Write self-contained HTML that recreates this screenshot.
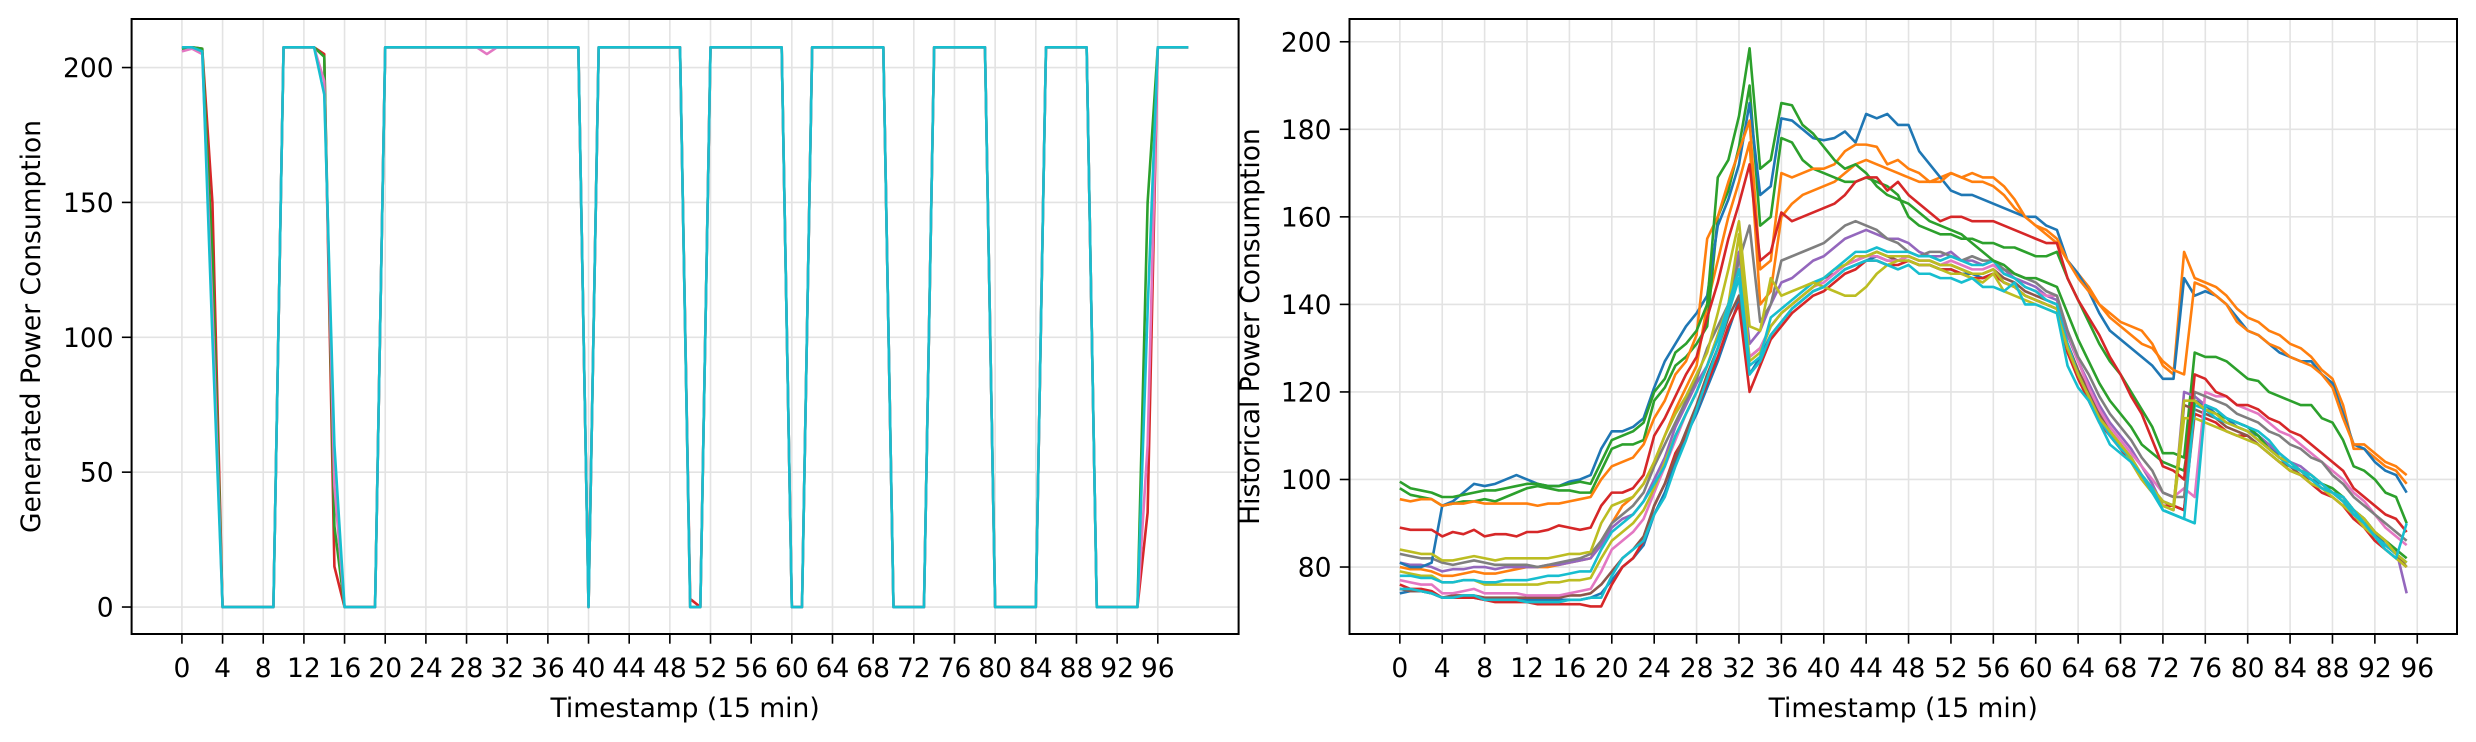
<!DOCTYPE html>
<html><head><meta charset="utf-8"><style>
html,body{margin:0;padding:0;background:#fff;}
svg{display:block;font-family:"DejaVu Sans","Liberation Sans",sans-serif;}
</style></head><body>
<svg id="fig" width="2476" height="742" viewBox="0 0 2476 742" xmlns="http://www.w3.org/2000/svg">
<rect width="2476" height="742" fill="#fff"/>
<g id="left"></g>
<g id="right"></g>
</svg>
<script>
// ---------- LEFT CHART DATA ----------
const leftXTicks = [0,4,8,12,16,20,24,28,32,36,40,44,48,52,56,60,64,68,72,76,80,84,88,92,96];
const leftYTicks = [0,50,100,150,200];
const leftMain = [207.5,207.5,206,100,0,0,0,0,0,0,
 207.5,207.5,207.5,207.5,190,60,0,0,0,0,
 207.5,207.5,207.5,207.5,207.5,207.5,207.5,207.5,207.5,207.5,
 207.5,207.5,207.5,207.5,207.5,207.5,207.5,207.5,207.5,207.5,
 0,207.5,207.5,207.5,207.5,207.5,207.5,207.5,207.5,207.5,
 0,0,207.5,207.5,207.5,207.5,207.5,207.5,207.5,207.5,
 0,0,207.5,207.5,207.5,207.5,207.5,207.5,207.5,207.5,
 0,0,0,0,207.5,207.5,207.5,207.5,207.5,207.5,
 0,0,0,0,0,207.5,207.5,207.5,207.5,207.5,
 0,0,0,0,0,110,207.5,207.5,207.5,207.5];
const leftRed = [207.5,207.5,207,150,0,0,0,0,0,0,
 207.5,207.5,207.5,207.5,205,15,0,0,0,0,
 207.5,207.5,207.5,207.5,207.5,207.5,207.5,207.5,207.5,207.5,
 207.5,207.5,207.5,207.5,207.5,207.5,207.5,207.5,207.5,207.5,
 0,207.5,207.5,207.5,207.5,207.5,207.5,207.5,207.5,207.5,
 3,0,207.5,207.5,207.5,207.5,207.5,207.5,207.5,207.5,
 0,0,207.5,207.5,207.5,207.5,207.5,207.5,207.5,207.5,
 0,0,0,0,207.5,207.5,207.5,207.5,207.5,207.5,
 0,0,0,0,0,207.5,207.5,207.5,207.5,207.5,
 0,0,0,0,0,35,207.5,207.5,207.5,207.5];
const leftGreen = [207,207.5,207,130,0,0,0,0,0,0,
 207.5,207.5,207.5,207.5,204,30,0,0,0,0,
 207.5,207.5,207.5,207.5,207.5,207.5,207.5,207.5,207.5,207.5,
 207.5,207.5,207.5,207.5,207.5,207.5,207.5,207.5,207.5,207.5,
 0,207.5,207.5,207.5,207.5,207.5,207.5,207.5,207.5,207.5,
 0,0,207.5,207.5,207.5,207.5,207.5,207.5,207.5,207.5,
 0,0,207.5,207.5,207.5,207.5,207.5,207.5,207.5,207.5,
 0,0,0,0,207.5,207.5,207.5,207.5,207.5,207.5,
 0,0,0,0,0,207.5,207.5,207.5,207.5,207.5,
 0,0,0,0,0,150,207.5,207.5,207.5,207.5];
const leftPink = [206,207,205,110,0,0,0,0,0,0,
 207.5,207.5,207.5,207.5,195,45,0,0,0,0,
 207.5,207.5,207.5,207.5,207.5,207.5,207.5,207.5,207.5,207.5,
 205,207.5,207.5,207.5,207.5,207.5,207.5,207.5,207.5,207.5,
 0,207.5,207.5,207.5,207.5,207.5,207.5,207.5,207.5,207.5,
 0,0,207.5,207.5,207.5,207.5,207.5,207.5,207.5,207.5,
 0,0,207.5,207.5,207.5,207.5,207.5,207.5,207.5,207.5,
 0,0,0,0,207.5,207.5,207.5,207.5,207.5,207.5,
 0,0,0,0,0,207.5,207.5,207.5,207.5,207.5,
 0,0,0,0,0,60,207.5,207.5,207.5,207.5];

// ---------- RIGHT CHART DATA ----------
const rightXTicks = [0,4,8,12,16,20,24,28,32,36,40,44,48,52,56,60,64,68,72,76,80,84,88,92,96];
const rightYTicks = [80,100,120,140,160,180,200];
const hBlue1=[81,80,80,81,94,95,97,99,98.5,99,100,101,100,99,98.5,98.5,99.5,100,101,107,111,111,112,114,121,127,131,135,138,142,158,164,172,186,165,167,182.5,182,180,178,177.5,178,179.5,177,183.5,182.5,183.5,181,181,175,172,169,166,165,165,164,163,162,161,160,160,158,157,150,147,143,138,134,132,130,128,126,123,123,146,142,143,142,140,137,134,133,131,129,128,127,127,124,122,115,108,107,104,102,101,97];
const hOrange1=[95.5,95,95.5,95.5,94,94.5,94.5,95,94.5,94.5,94.5,94.5,94.5,94,94.5,94.5,95,95.5,96,100,103,104,105,108,114,118,124,127,133,155,160,168,175,182,148,150,170,169,170,171,171,172,175,176.5,176.5,176,172,173,171,170,168,168,170,169,170,169,169,167,164,160,158,157,155,150,146,143,140,137,135,133,131,130,127,125,124,145,144,142,140,136,134,133,131,130,128,127,126,124,121,114,108,108,106,104,103,101];
const hOrange2=[80,79.5,79.5,79,78,78,78.5,79,78.5,78.5,79,79.5,80,80,80,80.5,81,81.5,82,86,90,94,96,99,104,110,116,121,126,140,150,160,168,177,140,143,160,163,165,166,167,168,170,172,173,172,171,170,169,168,168,169,170,169,168,168,167,165,162,160,158,156,154,150,147,144,140,138,136,135,134,131,126,124,152,146,145,144,142,139,137,136,134,133,131,130,128,125,123,117,107,107,105,103,102,99];
const hGreen1=[99.5,98,97.5,97,96,96,96.5,97,97.5,97.5,98,98.5,99,99,98.5,98.5,99,99.5,99,104,109,110,111,113,120,123,129,131,134,140,169,173,183,198.5,171,173,186,185.5,181,179,176,173,171,172,170,167,165,164,163,161,159,158,157,156,154,152,150,149,147,146,146,145,144,138,132,127,122,118,115,112,108,106,104,103,102,118,116,115,114,113,112,110,107,105,104,102,101,99,98,96,93,91,88,86,84,82];
const hGreen2=[98,96.5,96,95.5,94,94.5,95,95,95.5,95,96,97,98,98.5,98,97.5,97.5,97,97,102,107,108,108,109,118,121,126,128,131,135,160,166,176,190,158,160,178,177,173,171,170,169,168,168,169,168,167,165,160,158,157,156,156,155,155,154,154,153,153,152,151,151,152,146,141,136,131,127,124,120,116,112,106,106,105,129,128,128,127,125,123,122.5,120,119,118,117,117,114,113,109,103,102,100,97,96,90];
const hRed1=[89,88.5,88.5,88.5,87,88,87.5,88.5,87,87.5,87.5,87,88,88,88.5,89.5,89,88.5,89,94,97,97,98,101,110,114,119,124,128,137,145,155,163,172,150,152,161,159,160,161,162,163,165,168,169,169,166,168,165,163,161,159,160,160,159,159,159,158,157,156,155,154,154,146,141,137,133,128,124,119,115,109,103,102,100,124,123,120,119,117,117,116,114,113,111,110,108,106,104,102,98,96,94,92,91,88];
const hGray1=[83,82.5,82,82,81,80.5,81,81.5,81,80.5,80.5,80.5,80.5,80,80.5,81,81.5,82,83,86,90,92,94,97,103,108,113,118,123,130,135,140,150,158,136,140,150,151,152,153,154,156,158,159,158,157,155,154,152,151,152,152,151,150,151,150,150,148,147,146,145,143,142,134,128,124,119,115,112,109,105,102,97,96,96,120,119,118,117,115,114,113,111,110,108,107,105,104,101,99,96,94,92,90,88,86];
const hOlive1=[84,83.5,83,83,81.5,81.5,82,82.5,82,81.5,82,82,82,82,82,82.5,83,83,83.5,90,94,95,96,99,104,110,115,119,124,129,138,148,159,135,134,146,142,143,144,145,144,143,142,142,144,147,149,150,150,149,149,148,147,147,146,145,147,143,142,141,140,139,138,130,124,119,114,111,108,105,101,98,95,94,118,118,116,115,113,112,111,109,107,105,104,102,101,99,97,96,93,91,88,86,83,81];
const hPurple1=[81,80.5,80.5,80,79,79.5,79.5,80,80,79.5,80,80,80,80,80.5,80.5,81,81.5,82,85,89,91,92,95,100,105,112,117,122,126,133,140,152,131,134,140,145,146,148,150,151,153,155,156,157,156,155,155,154,152,151,151,152,150,150,149,150,148,146,145,144,142,141,133,127,122,117,113,110,107,103,99,94,93,120,119,117,116,114,113,112,110,108,106,104,103,101,99,97,96,93,91,88,86,84,74];
const hCyan1=[78,78,77.5,77.5,76.5,76.5,77,77,76.5,76.5,77,77,77,77.5,78,78,78.5,79,79,84,88,90,92,95,99,103,110,115,120,126,132,140,148,126,128,137,139,141,143,145,146,148,150,152,152,153,152,152,152,151,151,150,151,150,149,149,150,147,146,144,143,141,140,131,124,119,114,110,107,105,101,97,93,92,91,117,116,114,113,112,111,109,107,105,103,102,100,98,97,95,92,90,87,85,83,81];
const hCyan2=[75,75,74.5,74,73,73,73.5,73.5,72.5,72.5,72.5,72.5,72,72,72,72,72.5,72.5,73,73,78,82,84,86,92,96,103,109,116,123,130,138,146,124,127,133,136,139,141,143,144,146,148,149,150,150,149,148,149,147,147,146,146,145,146,144,144,143,145,140,140,139,138,126,121,118,113,108,106,104,101,98,93,92,91,90,117,116,114,113,112,111,109,106,104,102,101,99,97,96,93,90,87,84,82,90];
const hRed2=[76,75,75,74.5,73,73,73,73,72.5,72,72,72,72,71.5,71.5,71.5,71.5,71.5,71,71,76,80,82,86,94,99,106,110,116,122,128,135,140,120,126,132,135,138,140,142,143,145,147,148,150,150,149,149,150,149,149,148,148,147,146,146,147,145,144,142,141,140,139,129,123,118,113,110,107,104,100,97,94,94,93,115,114,113,111,110,110,108,106,104,102,101,99,97,96,94,91,89,86,84,82,80];
const hBrown1=[75,74.5,74.5,74,73,73.5,73.5,73.5,73,73,73,73,73,73,73,73,73.5,73.5,74,76,79,82,84,87,94,99,105,111,117,124,130,137,142,128,130,135,138,140,142,144,146,147,149,150,151,152,151,150,151,150,150,149,149,148,147,147,148,146,145,143,142,141,140,131,125,120,115,111,108,105,101,98,95,94,117,116,115,114,112,111,110,108,106,104,103,101,100,98,97,95,92,90,87,85,83,80];
const hPink1=[77,76.5,76,76,74,74,74.5,75,74,74,74,74,73.5,73.5,73.5,73.5,74,74.5,75,79,84,86,88,91,97,103,109,115,120,126,132,139,146,128,130,135,138,140,142,144,145,147,149,150,151,151,150,150,151,150,150,149,150,149,148,148,149,147,146,144,143,142,142,134,127,121,116,112,109,106,103,100,97,96,98,96,120,119,119,117,116,115,113,111,110,108,106,104,102,100,97,95,92,89,87,85];
const hBlue2=[74,74.5,74.5,74,73,73,73,73,72.5,72.5,72.5,72.5,72.5,72.5,72.5,72.5,72.5,72.5,73,74,77,80,82,85,92,97,104,110,115,121,127,134,141,124,128,133,136,139,141,143,144,146,148,149,150,151,150,150,150,149,149,148,148,147,147,146,147,145,144,142,141,140,139,130,124,119,114,110,107,104,101,98,95,94,93,118,117,115,114,112,111,110,108,105,104,102,100,99,97,96,93,91,88,85,83,81];
const hOlive2=[79,78.5,78,78,76.5,76.5,77,77,76,76,76,76,76,76,76.5,76.5,77,77,77.5,82,86,88,90,93,98,104,110,115,120,126,133,140,156,127,129,135,138,140,142,144,146,148,149,151,151,152,151,151,151,150,150,149,149,148,147,147,148,145,144,142,141,140,139,130,124,119,114,111,108,104,100,97,94,93,114,114,113,112,111,110,109,108,106,104,102,101,99,98,96,94,92,89,87,84,82,80];

const NS='http://www.w3.org/2000/svg';
function mk(tag, attrs, parent){const e=document.createElementNS(NS,tag);for(const k in attrs)e.setAttribute(k,attrs[k]);parent.appendChild(e);return e;}

function drawAxes(g, box, xlim, ylim, xticks, yticks, xlabel, ylabel, ylabX){
  const sx=v=>box.x0+(v-xlim[0])/(xlim[1]-xlim[0])*(box.x1-box.x0);
  const sy=v=>box.y1-(v-ylim[0])/(ylim[1]-ylim[0])*(box.y1-box.y0);
  const grid=mk('g',{},g);
  
  
  xticks.forEach(t=>{mk('line',{x1:sx(t),x2:sx(t),y1:box.y0,y2:box.y1,stroke:'#e3e3e3','stroke-width':1.6},grid);});
  yticks.forEach(t=>{mk('line',{x1:box.x0,x2:box.x1,y1:sy(t),y2:sy(t),stroke:'#e3e3e3','stroke-width':1.6},grid);});
  const ax=mk('g',{},g);
  xticks.forEach(t=>{
    mk('line',{x1:sx(t),x2:sx(t),y1:box.y1,y2:box.y1+9.7,stroke:'#000','stroke-width':1.6},ax);
    const tx=mk('text',{x:sx(t),y:box.y1+43,'text-anchor':'middle','font-size':26.5,fill:'#000'},ax);
    tx.textContent=t;
    
    
  });
  yticks.forEach(t=>{
    mk('line',{x1:box.x0-9.7,x2:box.x0,y1:sy(t),y2:sy(t),stroke:'#000','stroke-width':1.6},ax);
    const ty=mk('text',{x:box.x0-18,y:sy(t)+9.5,'text-anchor':'end','font-size':26.5,fill:'#000'},ax);
    ty.textContent=t;
    
    
  });
  const xl=mk('text',{x:(box.x0+box.x1)/2,y:717,'text-anchor':'middle','font-size':26.5,fill:'#000'},g);
  xl.textContent=xlabel;
  
  
  const cy=(box.y0+box.y1)/2;
  const yl=mk('text',{x:ylabX,y:cy,'text-anchor':'middle','font-size':26.5,fill:'#000',transform:`rotate(-90 ${ylabX} ${cy})`},g);
  yl.textContent=ylabel;
  
  
  return {sx,sy};
}
function frame(g,box){
  const r=mk('rect',{x:box.x0,y:box.y0,width:box.x1-box.x0,height:box.y1-box.y0,fill:'none',stroke:'#000','stroke-width':2},g);
  
  
}
function series(g,data,sc,color,name){
  const pts=data.map((v,i)=>sc.sx(i).toFixed(2)+','+sc.sy(v).toFixed(2)).join(' ');
  const p=mk('polyline',{points:pts,fill:'none',stroke:color,'stroke-width':2.6,'stroke-linejoin':'round'},g);
  
  
}

// LEFT
const L=document.getElementById('left');
const lbox={x0:131.6,x1:1238.6,y0:19,y1:634};
const lsc=drawAxes(L,lbox,[-4.95,103.95],[-10,218],leftXTicks,leftYTicks,'Timestamp (15 min)','Generated Power Consumption',40);
const lclip=mk('g',{},L);
series(lclip,leftRed,lsc,'#d62728','generated-series-red');
series(lclip,leftGreen,lsc,'#2ca02c','generated-series-green');
series(lclip,leftPink,lsc,'#e377c2','generated-series-pink');
series(lclip,leftMain,lsc,'#17becf','generated-series-cyan');
frame(L,lbox);

// RIGHT
const R=document.getElementById('right');
const rbox={x0:1349.5,x1:2457,y0:19,y1:634};
const rsc=drawAxes(R,rbox,[-4.75,99.75],[64.7,205.2],rightXTicks,rightYTicks,'Timestamp (15 min)','Historical Power Consumption',1259);
const rs=mk('g',{},R);
series(rs,hBlue2,rsc,'#1f77b4','historical-series-blue-2');
series(rs,hOrange2,rsc,'#ff7f0e','historical-series-orange-2');
series(rs,hGreen2,rsc,'#2ca02c','historical-series-green-2');
series(rs,hRed2,rsc,'#d62728','historical-series-red-2');
series(rs,hPurple1,rsc,'#9467bd','historical-series-purple');
series(rs,hBrown1,rsc,'#8c564b','historical-series-brown');
series(rs,hPink1,rsc,'#e377c2','historical-series-pink');
series(rs,hGray1,rsc,'#7f7f7f','historical-series-gray');
series(rs,hOlive2,rsc,'#bcbd22','historical-series-olive-2');
series(rs,hCyan1,rsc,'#17becf','historical-series-cyan-1');
series(rs,hBlue1,rsc,'#1f77b4','historical-series-blue-1');
series(rs,hOrange1,rsc,'#ff7f0e','historical-series-orange-1');
series(rs,hGreen1,rsc,'#2ca02c','historical-series-green-1');
series(rs,hRed1,rsc,'#d62728','historical-series-red-1');
series(rs,hOlive1,rsc,'#bcbd22','historical-series-olive-1');
series(rs,hCyan2,rsc,'#17becf','historical-series-cyan-2');
frame(R,rbox);
</script>
</body></html>
